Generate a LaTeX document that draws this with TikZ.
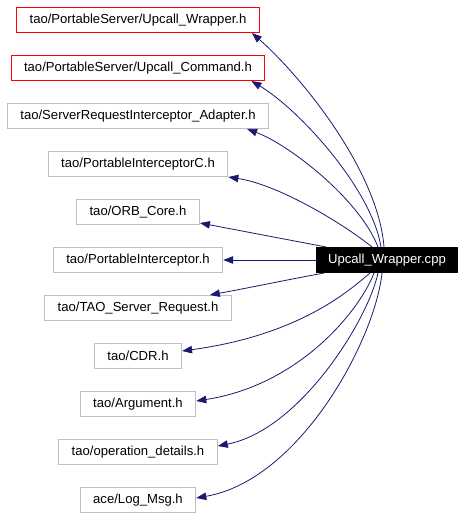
\documentclass[tikz,border=0pt]{standalone}
\usepackage{fontspec}
\setmainfont{Liberation Sans}
\usetikzlibrary{arrows.meta}
\definecolor{edgeblue}{HTML}{191970}
\definecolor{boxgray}{HTML}{BFBFBF}

\begin{document}
\begin{tikzpicture}[x=1bp,y=-1bp,
    hdr/.style={draw=boxgray, line width=1bp, minimum height=25bp, inner xsep=13bp, inner ysep=0pt, font=\fontsize{13.1bp}{15bp}\selectfont},
    hdrred/.style={hdr, draw=red},
    src/.style={hdr, inner xsep=11.5bp, draw=black, fill=black, text=white},
    dep/.style={edgeblue, line width=0.8bp, -{Triangle[length=10bp,width=7.5bp]}}]
    \useasboundingbox (0,0) rectangle (464,517);

    % Included headers, one row each
    \foreach \i/\s/\t in {1/hdrred/{tao/PortableServer/Upcall\_Wrapper.h},
                          2/hdrred/{tao/PortableServer/Upcall\_Command.h},
                          3/hdr/{tao/ServerRequestInterceptor\_Adapter.h},
                          4/hdr/{tao/PortableInterceptorC.h},
                          5/hdr/{tao/ORB\_Core.h},
                          6/hdr/{tao/PortableInterceptor.h},
                          7/hdr/{tao/TAO\_Server\_Request.h},
                          8/hdr/{tao/CDR.h},
                          9/hdr/{tao/Argument.h},
                          10/hdr/{tao/operation\_details.h},
                          11/hdr/{ace/Log\_Msg.h}} {
      \node[\s] (h\i) at (138,{20+48*(\i-1)}) {\t};
    }

    % Source file
    \node[src] (main) at (387,260) {Upcall\_Wrapper.cpp};

    % Include edges
    \draw[dep] ([xshift=-3bp]main.north) .. controls (378,170) and (300,75) .. ([xshift=-8bp]h1.south east);
    \draw[dep] ([xshift=-6bp]main.north) .. controls (372,190) and (300,110) .. ([xshift=-14bp]h2.south east);
    \draw[dep] ([xshift=-9bp]main.north) .. controls (360,200) and (290,145) .. ([xshift=-22bp]h3.south east);
    \draw[dep] ([xshift=-15bp]main.north) .. controls (345,225) and (280,185) .. (h4.south east);
    \draw[dep] ([xshift=10bp]main.north west) .. controls (284,239) and (242,231) .. ([yshift=2bp]h5.south east);
    \draw[dep] (main) -- (h6);
    \draw[dep] ([xshift=8bp]main.south west) .. controls (286,280) and (248,288) .. ([xshift=-22bp]h7.north east);
    \draw[dep] ([xshift=-17bp]main.south) .. controls (350,290) and (300,335) .. ([yshift=5bp]h8.east);
    \draw[dep] ([xshift=-13bp]main.south) .. controls (360,310) and (300,385) .. ([yshift=3bp]h9.east);
    \draw[dep] ([xshift=-9bp]main.south) .. controls (368,320) and (300,430) .. ([yshift=6bp]h10.east);
    \draw[dep] ([xshift=-5bp]main.south) .. controls (375,340) and (300,480) .. ([yshift=2bp]h11.east);
\end{tikzpicture}
\end{document}
